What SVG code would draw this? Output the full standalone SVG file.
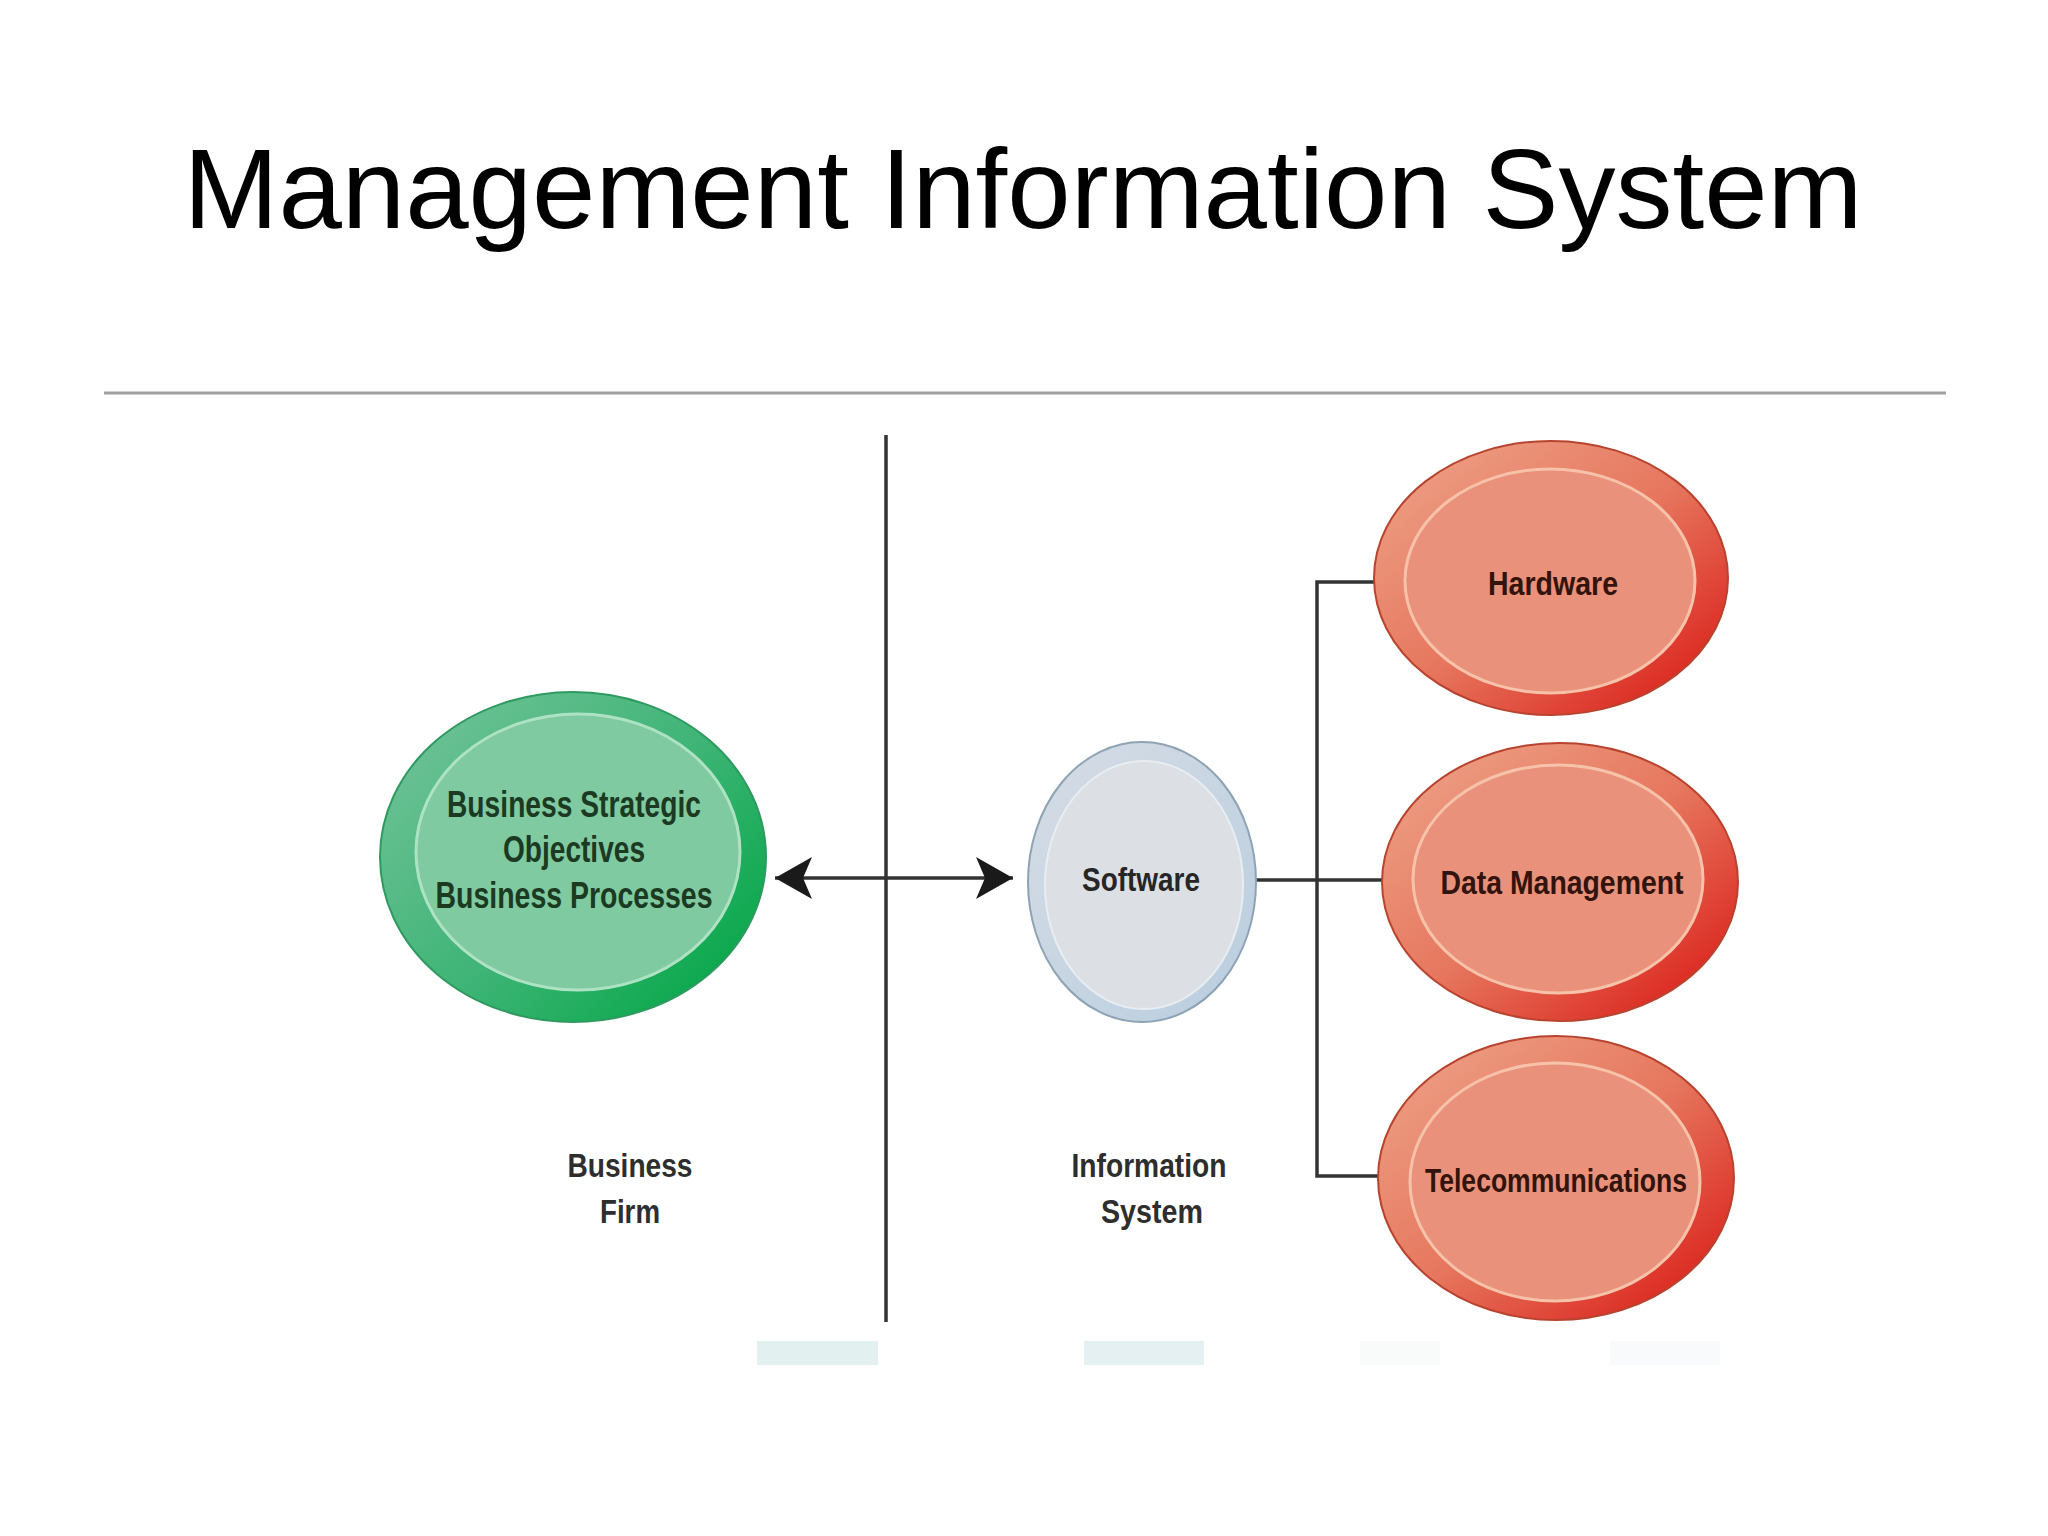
<svg xmlns="http://www.w3.org/2000/svg" width="2048" height="1536" viewBox="0 0 2048 1536">
<style>
.title{font-family:"Liberation Sans",Arial,sans-serif;font-size:114px;fill:#000}
.lbl{font-family:"Liberation Sans",Arial,sans-serif;font-weight:bold;text-anchor:middle}
.gtxt{font-size:36px;fill:#1c3a22}
.rtxt{font-size:34px;fill:#32140c}
.stxt{font-size:34px;fill:#262626}
.ftxt{font-size:34px;fill:#2e2e2e}
.conn{stroke:#333;stroke-width:3.5;fill:none}
.redin{fill:#e9917a;stroke:#f7c2aa;stroke-width:3}
.redout{fill:url(#redRing);stroke:#b8432f;stroke-width:2}
</style>
<defs>
<linearGradient id="redRing" x1="0.15" y1="0.1" x2="0.9" y2="0.85">
<stop offset="0" stop-color="#ec9a80"/>
<stop offset="0.5" stop-color="#e6775e"/>
<stop offset="1" stop-color="#dc2a22"/>
</linearGradient>
<linearGradient id="greenRing" x1="0.1" y1="0.1" x2="0.95" y2="0.8">
<stop offset="0" stop-color="#6cc195"/>
<stop offset="0.55" stop-color="#3db475"/>
<stop offset="1" stop-color="#0aa84c"/>
</linearGradient>
<linearGradient id="blueRing" x1="0.1" y1="0.1" x2="0.9" y2="0.9">
<stop offset="0" stop-color="#d3dbe4"/>
<stop offset="1" stop-color="#bccfe0"/>
</linearGradient>
<marker id="barb" viewBox="0 0 37 42" refX="37" refY="21" markerWidth="37" markerHeight="42" markerUnits="userSpaceOnUse" orient="auto-start-reverse">
<path d="M0,0 L37,21 L0,42 L9,21 Z" fill="#1a1a1a"/>
</marker>
</defs>
<rect width="2048" height="1536" fill="#fff"/>
<text class="title" x="1023" y="228" text-anchor="middle">Management Information System</text>
<line x1="104" y1="393" x2="1946" y2="393" stroke="#a0a0a0" stroke-width="3"/>
<g id="bottom-strips">
<rect x="757" y="1341" width="121" height="24" fill="#cfe6e6" opacity="0.6"/>
<rect x="1084" y="1341" width="120" height="24" fill="#d3e6ea" opacity="0.6"/>
<rect x="1360" y="1341" width="80" height="24" fill="#eef4f2" opacity="0.35"/>
<rect x="1610" y="1341" width="110" height="24" fill="#eaf0f6" opacity="0.35"/>
</g>
<g id="connectors">
<line class="conn" x1="886" y1="435" x2="886" y2="1322" stroke-width="3"/>
<line class="conn" x1="775" y1="878" x2="1013" y2="878" marker-start="url(#barb)" marker-end="url(#barb)"/>
<line class="conn" x1="1256" y1="880" x2="1382" y2="880"/>
<polyline class="conn" points="1374,582 1317,582 1317,1176 1380,1176"/>
</g>
<g id="node-business">
<ellipse cx="573" cy="857" rx="193" ry="165" fill="url(#greenRing)" stroke="#2f9a60" stroke-width="2"/>
<ellipse cx="578" cy="852" rx="162" ry="138" fill="#7fcaa0" stroke="#aee2c4" stroke-width="3"/>
<text class="lbl gtxt" x="574" y="817" textLength="254" lengthAdjust="spacingAndGlyphs">Business Strategic</text>
<text class="lbl gtxt" x="574" y="862" textLength="142" lengthAdjust="spacingAndGlyphs">Objectives</text>
<text class="lbl gtxt" x="574" y="908" textLength="277" lengthAdjust="spacingAndGlyphs">Business Processes</text>
</g>
<g id="node-software">
<ellipse cx="1142" cy="882" rx="114" ry="140" fill="url(#blueRing)" stroke="#8ea3b3" stroke-width="2"/>
<ellipse cx="1144" cy="885" rx="99" ry="124" fill="#dcdfe3" stroke="#e8edf2" stroke-width="2"/>
<text class="lbl stxt" x="1141" y="891" textLength="118" lengthAdjust="spacingAndGlyphs">Software</text>
</g>
<g id="node-hardware">
<ellipse class="redout" cx="1551" cy="578" rx="177" ry="137"/>
<ellipse class="redin" cx="1550" cy="581" rx="145" ry="112"/>
<text class="lbl rtxt" x="1553" y="595" textLength="130" lengthAdjust="spacingAndGlyphs">Hardware</text>
</g>
<g id="node-data">
<ellipse class="redout" cx="1560" cy="882" rx="178" ry="139"/>
<ellipse class="redin" cx="1558" cy="879" rx="145" ry="114"/>
<text class="lbl rtxt" x="1562" y="894" textLength="243" lengthAdjust="spacingAndGlyphs">Data Management</text>
</g>
<g id="node-telecom">
<ellipse class="redout" cx="1556" cy="1178" rx="178" ry="142"/>
<ellipse class="redin" cx="1555" cy="1182" rx="145" ry="119"/>
<text class="lbl rtxt" x="1556" y="1192" textLength="262" lengthAdjust="spacingAndGlyphs">Telecommunications</text>
</g>
<g id="label-business-firm">
<text class="lbl ftxt" x="630" y="1177" textLength="125" lengthAdjust="spacingAndGlyphs">Business</text>
<text class="lbl ftxt" x="630" y="1223" textLength="60" lengthAdjust="spacingAndGlyphs">Firm</text>
</g>
<g id="label-information-system">
<text class="lbl ftxt" x="1149" y="1177" textLength="155" lengthAdjust="spacingAndGlyphs">Information</text>
<text class="lbl ftxt" x="1152" y="1223" textLength="102" lengthAdjust="spacingAndGlyphs">System</text>
</g>
</svg>
